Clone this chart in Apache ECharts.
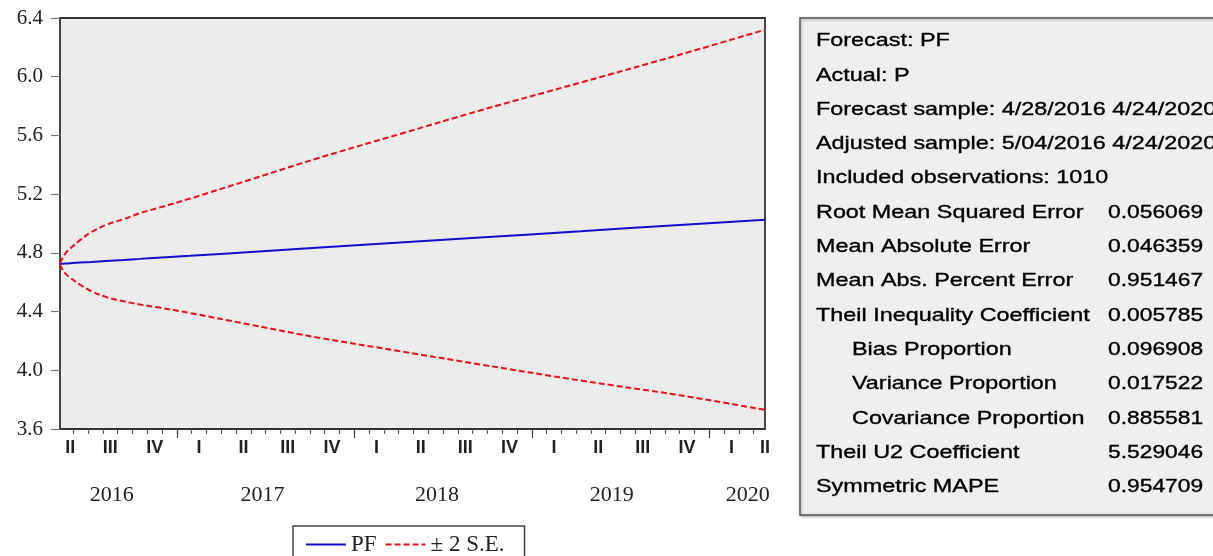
<!DOCTYPE html>
<html>
<head>
<meta charset="utf-8">
<script src="https://cdn.jsdelivr.net/npm/echarts@6/dist/echarts.min.js"></script>
<style>
  html, body { margin: 0; padding: 0; background: #fff; }
  #main { width: 1213px; height: 556px; }
</style>
</head>
<body>
<div id="main"></div>
<script>
// x = months since Jan 2016 (forecast runs 5/04/2016 .. 4/24/2020)
var months = [4.1, 4.3, 4.5, 4.8, 5.5, 6.2, 7.2, 8.4, 9.5, 10.7, 12.9, 17, 21.7, 27.1, 32.5, 39.3, 46, 51.77];
var pf     = [4.725, 4.726, 4.728, 4.73, 4.734, 4.738, 4.745, 4.752, 4.759, 4.767, 4.78, 4.806, 4.836, 4.87, 4.904, 4.947, 4.99, 5.025];
var upper  = [4.73, 4.77, 4.80, 4.83, 4.89, 4.94, 4.99, 5.03, 5.07, 5.105, 5.17, 5.30, 5.45, 5.61, 5.77, 5.96, 6.15, 6.32];
var lower  = [4.72, 4.68, 4.655, 4.63, 4.58, 4.54, 4.50, 4.47, 4.448, 4.429, 4.39, 4.31, 4.22, 4.13, 4.04, 3.93, 3.83, 3.73];

// axis labels
var quarterPos    = [4.8, 7.5, 10.5, 13.5, 16.5, 19.5, 22.5, 25.5, 28.5, 31.5, 34.5, 37.5, 40.5, 43.5, 46.5, 49.5, 51.77];
var quarterLabels = ['II','III','IV','I','II','III','IV','I','II','III','IV','I','II','III','IV','I','II'];
var yearPos    = [7.6, 17.8, 29.6, 41.4, 50.6];
var yearLabels = ['2016', '2017', '2018', '2019', '2020'];
var monthTicks = [];
for (var m = 5; m <= 51; m++) monthTicks.push(m);
var yearTicks = [12, 24, 36, 48];

// statistics table
var statLabels = ['Forecast: PF', 'Actual: P', 'Forecast sample: 4/28/2016 4/24/2020',
    'Adjusted sample: 5/04/2016 4/24/2020', 'Included observations: 1010',
    'Root Mean Squared Error', 'Mean Absolute Error', 'Mean Abs. Percent Error',
    'Theil Inequality Coefficient', 'Bias Proportion', 'Variance Proportion',
    'Covariance Proportion', 'Theil U2 Coefficient', 'Symmetric MAPE'];
var statValues = ['', '', '', '', '', '0.056069', '0.046359', '0.951467', '0.005785',
    '0.096908', '0.017522', '0.885581', '5.529046', '0.954709'];
var statIndent = [9, 10, 11];

function pairs(ys) {
    return months.map(function (x, i) { return [x, ys[i]]; });
}

var myChart = echarts.init(document.getElementById('main'));

var panelFont = '19px "Liberation Sans", Arial, sans-serif';
var panel = [{
    type: 'rect',
    shape: { x: 800, y: 18, width: 440, height: 497 },
    style: { fill: '#efefef', stroke: '#555', lineWidth: 1.5,
             shadowBlur: 3, shadowColor: 'rgba(0,0,0,0.3)', shadowOffsetX: 1, shadowOffsetY: 1 }
}];
statLabels.forEach(function (t, i) {
    var y = 41 + i * 34.3;
    panel.push({
        type: 'text', x: statIndent.indexOf(i) >= 0 ? 852 : 816, y: y, scaleX: 1.23,
        style: { text: t, font: panelFont, fill: '#000', stroke: '#000', lineWidth: 0.35, verticalAlign: 'middle' }
    });
    if (statValues[i]) {
        panel.push({
            type: 'text', x: 1108, y: y, scaleX: 1.2,
            style: { text: statValues[i], font: panelFont, fill: '#000', stroke: '#000', lineWidth: 0.35, verticalAlign: 'middle' }
        });
    }
});

var option = {
    backgroundColor: '#fff',
    animation: false,
    grid: {
        left: 60, top: 18, width: 705, height: 411,
        show: true, backgroundColor: '#ececec', borderColor: '#333', borderWidth: 1.8
    },
    legend: {
        left: 293, top: 526,
        data: ['PF', '± 2 S.E.'],
        itemWidth: 40, itemHeight: 14, itemGap: 8,
        padding: [7, 20, 12, 12],
        borderColor: '#444', borderWidth: 1.5, backgroundColor: '#fff',
        itemStyle: { color: 'rgba(0,0,0,0)', borderWidth: 0, opacity: 0 },
        textStyle: { fontFamily: '"Liberation Serif", serif', fontSize: 23, color: '#222' }
    },
    xAxis: [{
        type: 'value', min: 4.1, max: 51.77,
        axisLine: { show: false },
        splitLine: { show: false },
        axisTick: { show: true, length: 5, customValues: monthTicks, lineStyle: { color: '#555', width: 1.2 } },
        axisLabel: {
            customValues: quarterPos, margin: 10,
            fontFamily: '"Liberation Sans Narrow", "Liberation Sans", Arial, sans-serif', fontSize: 18, fontWeight: 'bold', color: '#222',
            formatter: function (v) {
                var i = quarterPos.indexOf(v);
                return i >= 0 ? quarterLabels[i] : '';
            }
        }
    }, {
        type: 'value', min: 4.1, max: 51.77, position: 'bottom',
        axisLine: { show: false },
        splitLine: { show: false },
        axisTick: { show: true, length: 9, customValues: yearTicks, lineStyle: { color: '#444', width: 1.2 } },
        axisLabel: { show: false }
    }, {
        type: 'value', min: 4.1, max: 51.77, position: 'bottom',
        axisLine: { show: false },
        splitLine: { show: false },
        axisTick: { show: false },
        axisLabel: {
            customValues: yearPos, margin: 55,
            fontFamily: '"Liberation Serif", serif', fontSize: 22, color: '#222',
            formatter: function (v) {
                var i = yearPos.indexOf(v);
                return i >= 0 ? yearLabels[i] : '';
            }
        }
    }],
    yAxis: {
        type: 'value', min: 3.6, max: 6.4, interval: 0.4,
        axisLine: { show: false },
        splitLine: { show: false },
        axisTick: { show: true, length: 9, lineStyle: { color: '#777', width: 1.2 } },
        axisLabel: {
            margin: 17,
            fontFamily: '"Liberation Serif", serif', fontSize: 21, color: '#222',
            formatter: function (v) { return v.toFixed(1); }
        }
    },
    series: [{
        name: 'PF', type: 'line', symbol: 'none', smooth: 0.3,
        data: pairs(pf),
        lineStyle: { color: '#1010c8', width: 2 }, itemStyle: { color: '#1010c8' }
    }, {
        name: '± 2 S.E.', type: 'line', symbol: 'none', smooth: 0.4,
        data: pairs(upper),
        lineStyle: { color: '#e8101a', width: 2, type: [6, 3] }, itemStyle: { color: '#e8101a' }
    }, {
        name: '± 2 S.E.', type: 'line', symbol: 'none', smooth: 0.4,
        data: pairs(lower),
        lineStyle: { color: '#e8101a', width: 2, type: [6, 3] }, itemStyle: { color: '#e8101a' }
    }],
    graphic: panel
};

myChart.setOption(option);
window.addEventListener('resize', function () { myChart.resize(); });
</script>
</body>
</html>
